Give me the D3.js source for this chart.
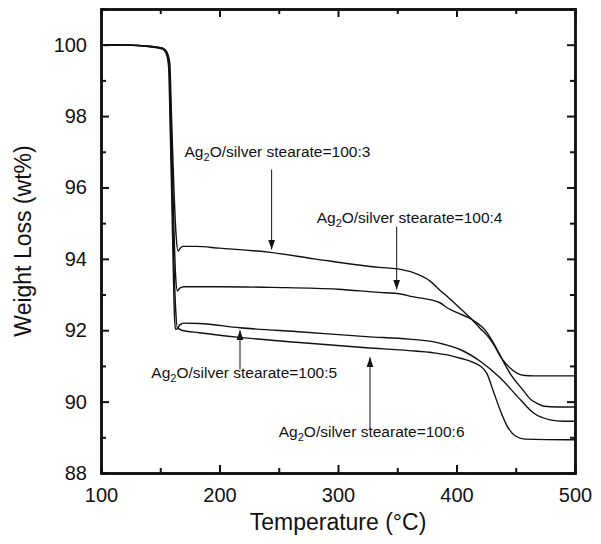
<!DOCTYPE html>
<html>
<head>
<meta charset="utf-8">
<script src="https://cdn.jsdelivr.net/npm/d3@7/dist/d3.min.js"></script>
<style>
  body { margin: 0; background: #fff; }
  text { font-family: "Liberation Sans", Arial, sans-serif; fill: #111; }
</style>
</head>
<body>
<div id="chart"></div>
<script>
// TGA curves, Ag2O / silver stearate ratios

// [temperature (C), weight (wt%)]
var series3 = [[100,100.0],[120,99.99],[140,99.96],[152,99.9],[155.5,99.8],[158,99.5],[159.5,98],[161.5,96],[163.5,94.6],[165,94.22],[166.5,94.28],[169,94.35],[180,94.35],[200,94.3],[243,94.18],[280,94.0],[335,93.76],[350,93.72],[363,93.62],[378,93.37],[386,93.12],[392,92.95],[405,92.55],[413,92.3],[420,92.05],[426,91.85],[431,91.62],[438,91.22],[445,90.95],[451,90.8],[458,90.73],[465,90.72],[500,90.72]];
var series4 = [[100,100.0],[120,99.99],[140,99.96],[152,99.9],[155.5,99.78],[157.5,99.5],[159,98],[161,95.5],[163,93.5],[164.5,93.1],[166.5,93.18],[170,93.22],[200,93.22],[245,93.2],[300,93.15],[335,93.06],[350,93.03],[363,92.94],[386,92.77],[392,92.63],[400,92.5],[413,92.3],[425,91.97],[432,91.6],[438,91.22],[445,90.8],[456,90.33],[463,90.05],[468,89.95],[474,89.87],[485,89.85],[500,89.85]];
var series5 = [[100,100.0],[120,99.99],[140,99.95],[152,99.88],[155.5,99.75],[157.5,99.4],[159,97.5],[161,94.5],[163,92.6],[164.5,92.05],[166.5,92.15],[170,92.2],[183,92.19],[217,92.07],[270,91.95],[324,91.82],[360,91.75],[380,91.68],[390,91.6],[403,91.46],[420,91.13],[437,90.66],[454,90.05],[465,89.68],[479,89.49],[490,89.45],[500,89.45]];
var series6 = [[100,100.0],[120,99.99],[140,99.95],[152,99.88],[155,99.75],[157,99.4],[158.5,97.5],[160.5,94.5],[162,92.4],[163,92.02],[165,92.05],[168,92.0],[183,91.93],[217,91.8],[270,91.65],[324,91.51],[360,91.43],[380,91.37],[395,91.29],[405,91.2],[414,91.1],[420,91.0],[425.5,90.8],[431,90.3],[437,89.75],[443,89.3],[450,89.03],[458,88.95],[500,88.93]];

var allSeries = [series3, series4, series5, series6];

// labels: text anchor (T, wt), arrow x (T), arrow from / to (wt)
var labelRatios = ["100:3", "100:4", "100:5", "100:6"];
var labelPos = [[170.5,96.85],[282,95.0],[142.5,90.65],[250,89.0]];
var arrowT = [244, 349.5, 217.3, 327];
var arrowFrom = [96.5, 94.9, 90.9, 89.2];
var arrowTo = [94.26, 93.14, 92.0, 91.24];

var xMajor = [100, 200, 300, 400, 500];
var xMinor = [150, 250, 350, 450];
var yMajor = [88, 90, 92, 94, 96, 98, 100];
var yMinor = [89, 91, 93, 95, 97, 99];

var svgWidth = 601;
var svgHeight = 544;

var margin = { top: 9, bottom: 71, left: 101, right: 26 };
var width = svgWidth - margin.left - margin.right;
var height = svgHeight - margin.top - margin.bottom;

var svg = d3.select("#chart")
	.append("svg")
	.attr("width", svgWidth)
	.attr("height", svgHeight);

var chartGroup = svg.append("g")
	.attr("transform", `translate(${margin.left}, ${margin.top})`);

var xScale = d3.scaleLinear().domain([100, 500]).range([0, width]);
var yScale = d3.scaleLinear().domain([88, 101]).range([height, 0]);

// curves
var line = d3.line()
	.x(d => xScale(d[0]))
	.y(d => yScale(d[1]))
	.curve(d3.curveMonotoneX);

chartGroup.selectAll("path.curve")
	.data(allSeries)
	.enter()
	.append("path")
	.attr("class", "curve")
	.attr("d", line)
	.attr("fill", "none")
	.attr("stroke", "#111")
	.attr("stroke-width", 1.4);

// axes, ticks pointing inward on all four sides
function styleAxis(g) {
	g.select(".domain").attr("stroke", "#111").attr("stroke-width", 2.5);
	g.selectAll(".tick line").attr("stroke", "#111").attr("stroke-width", 2);
	g.selectAll(".tick text")
		.attr("font-size", "20px")
		.attr("font-family", "Liberation Sans, Arial, sans-serif")
		.attr("fill", "#111");
}

var bottom = chartGroup.append("g")
	.attr("transform", `translate(0, ${height})`)
	.call(d3.axisBottom(xScale).tickValues(xMajor).tickSize(-8).tickSizeOuter(0).tickPadding(15));
bottom.call(styleAxis);
chartGroup.append("g")
	.attr("transform", `translate(0, ${height})`)
	.call(d3.axisBottom(xScale).tickValues(xMinor).tickSize(-5).tickFormat(""))
	.call(styleAxis);

var left = chartGroup.append("g")
	.call(d3.axisLeft(yScale).tickValues(yMajor).tickSize(-8).tickSizeOuter(0).tickPadding(14));
left.call(styleAxis);
chartGroup.append("g")
	.call(d3.axisLeft(yScale).tickValues(yMinor).tickSize(-5).tickFormat(""))
	.call(styleAxis);

chartGroup.append("g")
	.call(d3.axisTop(xScale).tickValues(xMajor).tickSize(-8).tickSizeOuter(0).tickFormat(""))
	.call(styleAxis);
chartGroup.append("g")
	.call(d3.axisTop(xScale).tickValues(xMinor).tickSize(-5).tickFormat(""))
	.call(styleAxis);

chartGroup.append("g")
	.attr("transform", `translate(${width}, 0)`)
	.call(d3.axisRight(yScale).tickValues(yMajor).tickSize(-8).tickSizeOuter(0).tickFormat(""))
	.call(styleAxis);
chartGroup.append("g")
	.attr("transform", `translate(${width}, 0)`)
	.call(d3.axisRight(yScale).tickValues(yMinor).tickSize(-5).tickFormat(""))
	.call(styleAxis);

// axis titles
chartGroup.append("text")
	.attr("transform", `translate(${width / 2}, ${height + 57})`)
	.attr("text-anchor", "middle")
	.attr("font-size", "23px")
	.text("Temperature (\u00B0C)");

chartGroup.append("text")
	.attr("transform", `translate(-70, ${height / 2})rotate(-90)`)
	.attr("text-anchor", "middle")
	.attr("font-size", "23px")
	.text("Weight Loss (wt%)");

// annotations
svg.append("defs").append("marker")
	.attr("id", "head")
	.attr("viewBox", "0 0 10 10")
	.attr("refX", 10)
	.attr("refY", 5)
	.attr("markerWidth", 10)
	.attr("markerHeight", 10)
	.attr("markerUnits", "userSpaceOnUse")
	.attr("orient", "auto")
	.append("path")
	.attr("d", "M0,1.5 L10,5 L0,8.5 Z")
	.attr("fill", "#111");

labelRatios.forEach(function(r, i) {
	var t = chartGroup.append("text")
		.attr("x", xScale(labelPos[i][0]))
		.attr("y", yScale(labelPos[i][1]))
		.attr("font-size", "15.5px");
	t.append("tspan").text("Ag");
	t.append("tspan").attr("dy", 4).attr("font-size", "11px").text("2");
	t.append("tspan").attr("dy", -4).text("O/silver stearate=" + r);

	chartGroup.append("line")
		.attr("x1", xScale(arrowT[i]))
		.attr("x2", xScale(arrowT[i]))
		.attr("y1", yScale(arrowFrom[i]))
		.attr("y2", yScale(arrowTo[i]))
		.attr("stroke", "#111")
		.attr("stroke-width", 1)
		.attr("marker-end", "url(#head)");
});
</script>
</body>
</html>
